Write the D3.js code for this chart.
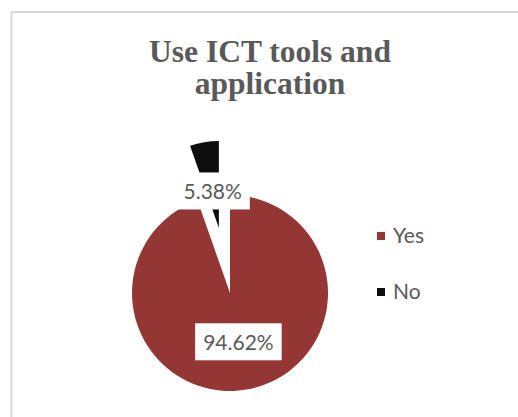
<!DOCTYPE html>
<html>
<head>
<meta charset="utf-8">
<script src="https://cdn.jsdelivr.net/npm/d3@7"></script>
<style>
  body { margin: 0; background: #fff; }
  svg { display: block; }
</style>
</head>
<body>
<div id="chart"></div>
<script>
// données
const categories = ["Yes", "No"];
const values = [94.62, 5.38];
const labels = ["94.62%", "5.38%"];
const colors = ["#943634", "#0d0d0d"];
const titleLines = ["Use ICT tools and", "application"];

const w = 518;
const h = 417;
const cx = 230;
const cy = 293;
const r = 98;

const svg = d3.select("#chart")
    .append("svg")
    .attr("width", w)
    .attr("height", h);

// cadre
svg.append("rect")
    .attr("x", 11.5)
    .attr("y", 12)
    .attr("width", w + 20)
    .attr("height", h + 20)
    .attr("fill", "#fff")
    .attr("stroke", "#d9d9d9")
    .attr("stroke-width", 2);

// titre
svg.selectAll("text.title")
    .data(titleLines)
    .enter()
    .append("text")
    .attr("class", "title")
    .attr("x", 270)
    .attr("y", (d, i) => 62 + i * 32)
    .attr("text-anchor", "middle")
    .attr("font-family", "'Liberation Serif', 'Times New Roman', serif")
    .attr("font-weight", "bold")
    .attr("font-size", "31.5px")
    .attr("fill", "#595959")
    .text(d => d);

// camembert
const pie = d3.pie().sort(null).value(d => d);
const arcs = pie(values);

// rayon et décalage par part (la part "No" est détachée)
const radius = [r, 87];
const explode = [0, 66];

function dir(d) {
    const a = (d.startAngle + d.endAngle) / 2;
    return [Math.sin(a), -Math.cos(a)];
}

const g = svg.append("g").attr("transform", "translate(" + cx + "," + cy + ")");

g.selectAll("path")
    .data(arcs)
    .enter()
    .append("path")
    .attr("d", (d, i) => d3.arc().innerRadius(0).outerRadius(radius[i])(d))
    .attr("transform", (d, i) => {
        const v = dir(d);
        return "translate(" + v[0] * explode[i] + "," + v[1] * explode[i] + ")";
    })
    .attr("fill", (d, i) => colors[i]);

// étiquettes
const labelDist = [50, 103];
const lab = g.selectAll("g.lab")
    .data(arcs)
    .enter()
    .append("g")
    .attr("class", "lab")
    .attr("transform", (d, i) => {
        const v = dir(d);
        return "translate(" + v[0] * labelDist[i] + "," + v[1] * labelDist[i] + ")";
    });

lab.append("rect").attr("fill", "#fff");
lab.append("text")
    .attr("text-anchor", "middle")
    .attr("y", 8)
    .attr("font-family", "Lato, 'Open Sans', sans-serif")
    .attr("font-size", "21px")
    .attr("fill", "#595959")
    .text((d, i) => labels[i]);

lab.each(function() {
    const t = d3.select(this).select("text").node();
    const tw = t.getComputedTextLength();
    d3.select(this).select("rect")
        .attr("x", -tw / 2 - 8)
        .attr("y", -19)
        .attr("width", tw + 16)
        .attr("height", 37);
});

// légende
const legend = svg.selectAll("g.legend")
    .data(categories)
    .enter()
    .append("g")
    .attr("class", "legend")
    .attr("transform", (d, i) => "translate(377," + (232 + i * 56) + ")");

legend.append("rect")
    .attr("width", 8)
    .attr("height", 8)
    .attr("fill", (d, i) => colors[i]);

legend.append("text")
    .attr("x", 16)
    .attr("y", 11)
    .attr("font-family", "Lato, 'Open Sans', sans-serif")
    .attr("font-size", "21px")
    .attr("fill", "#595959")
    .text(d => d);
</script>
</body>
</html>
